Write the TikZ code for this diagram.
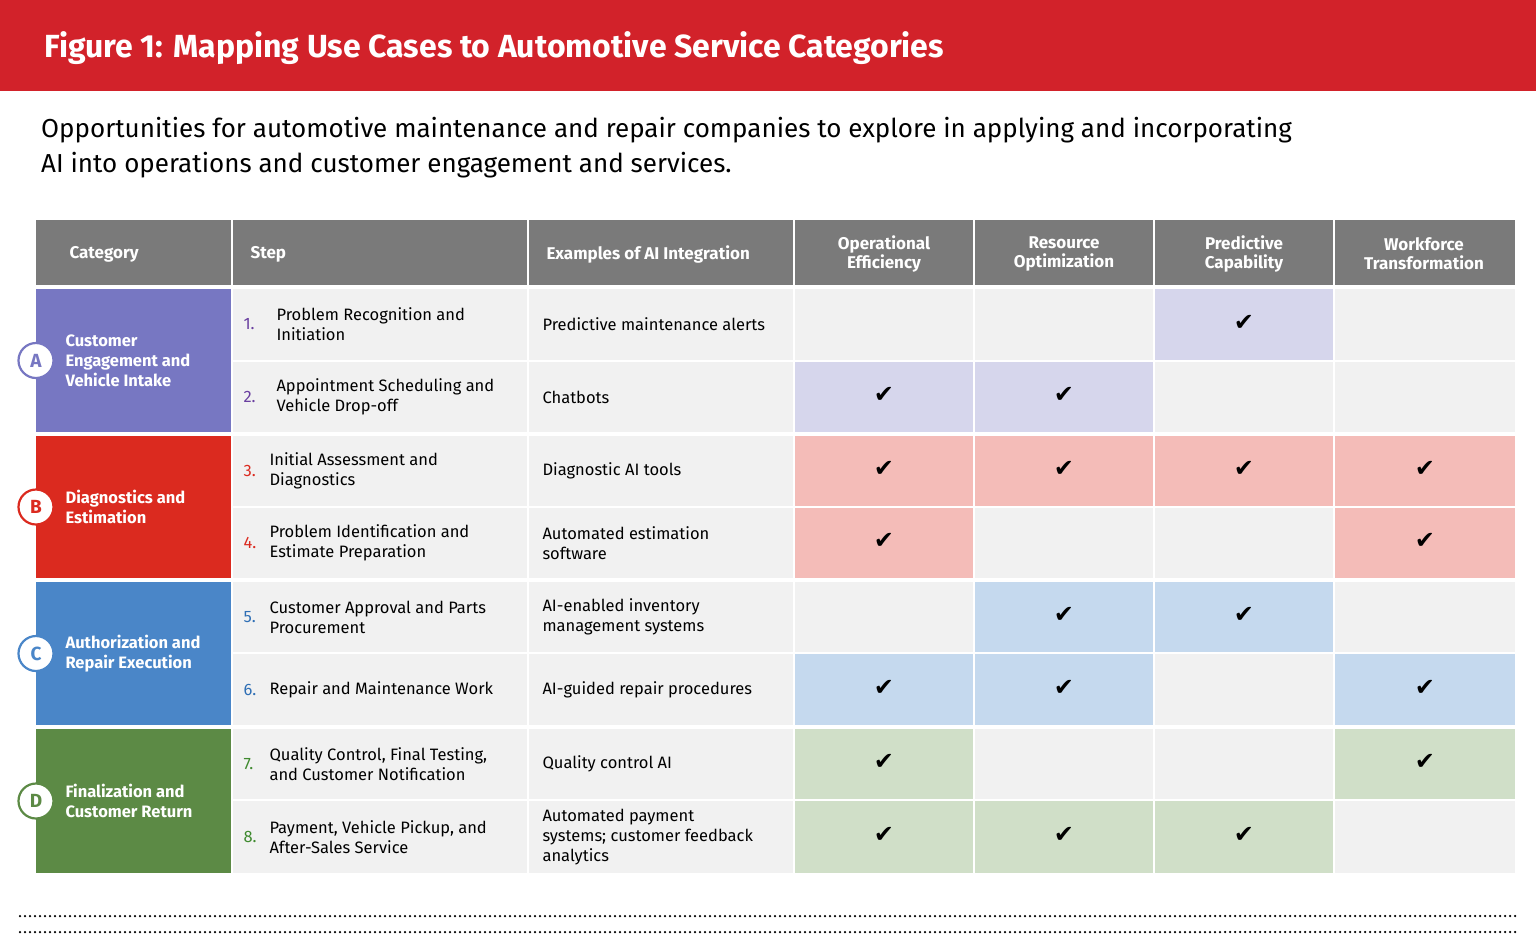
\documentclass[tikz,border=0pt]{standalone}
\usepackage{fontspec}
\setmainfont{Fira Sans}
\newfontfamily\symf{DejaVu Sans}
\begin{document}
\begin{tikzpicture}[x=1pt,y=-1pt,
  hdr/.style={fill=hdrgray,draw=none},
  cell/.style={fill=cellgray,draw=none},
  hdrtxt/.style={text=white,font=\fontsize{17}{19}\selectfont\bfseries,align=center},
  bodytxt/.style={font=\fontsize{16.5}{20}\selectfont,align=left,anchor=west},
  cattxt/.style={text=white,font=\fontsize{16.5}{20}\selectfont\bfseries,align=left,anchor=west},
  chk/.style={font=\symf\fontsize{24}{24}\selectfont},
  badge/.style={circle,fill=white,draw=#1,line width=2.2pt,minimum size=35pt,inner sep=0pt,text=#1,font=\fontsize{19}{19}\selectfont\bfseries}]
\definecolor{titlered}{HTML}{D2222A}
\definecolor{hdrgray}{HTML}{7A7A7A}
\definecolor{cellgray}{HTML}{F1F1F1}
\definecolor{cA}{HTML}{7777C2}\definecolor{lA}{HTML}{D6D6EC}\definecolor{nA}{HTML}{6A3FA0}
\definecolor{cB}{HTML}{DB2A1F}\definecolor{lB}{HTML}{F4BCB8}\definecolor{nB}{HTML}{DB2A1F}
\definecolor{cC}{HTML}{4A86C8}\definecolor{lC}{HTML}{C5D9EE}\definecolor{nC}{HTML}{2F6FB5}
\definecolor{cD}{HTML}{5C8A45}\definecolor{lD}{HTML}{D0DFC8}\definecolor{nD}{HTML}{3F8A2F}
\useasboundingbox (0,0) rectangle (1536,935);
\fill[titlered] (0,0) rectangle (1536,91);
\node[anchor=west,text=white,font=\fontsize{32}{34}\selectfont\bfseries] (title) at (41,48) {Figure 1: Mapping Use Cases to Automotive Service Categories};
\node[anchor=north west,align=left,font=\fontsize{26}{35}\selectfont,inner sep=0pt] (sub) at (41,117) {Opportunities for automotive maintenance and repair companies to explore in applying and incorporating\\AI into operations and customer engagement and services.};
% header
\foreach \a/\b in {36/231,233/527,529/793,795/973,975/1153,1155/1333,1335/1515}{\fill[hdrgray] (\a,220) rectangle (\b,285);}
\node[hdrtxt,anchor=west] (h1) at (66,254) {Category};
\node[hdrtxt,anchor=west] (h2) at (247,254) {Step};
\node[hdrtxt,anchor=west] (h3) at (543,254) {Examples of AI Integration};
\node[hdrtxt] (h4) at (884,254) {Operational\\Efficiency};
\node[hdrtxt] (h5) at (1064,254) {Resource\\Optimization};
\node[hdrtxt] (h6) at (1244,254) {Predictive\\Capability};
\node[hdrtxt] (h7) at (1424,254) {Workforce\\Transformation};
% rows: top/bottom/group/checks(O,R,P,W)
\foreach \t/\bo/\g/\o/\r/\p/\w/\n/\tx/\num/\st/\ex in {
 289/360/A/0/0/1/0/1/277/1./{Problem Recognition and\\Initiation}/{Predictive maintenance alerts},
 362/432/A/1/1/0/0/2/277/2./{Appointment Scheduling and\\Vehicle Drop-off}/{Chatbots},
 436/506/B/1/1/1/1/3/270/3./{Initial Assessment and\\Diagnostics}/{Diagnostic AI tools},
 508/578/B/1/0/0/1/4/270/4./{Problem Identification and\\Estimate Preparation}/{Automated estimation\\software},
 582/652/C/0/1/1/0/5/270/5./{Customer Approval and Parts\\Procurement}/{AI-enabled inventory\\management systems},
 654/725/C/1/1/0/1/6/270/6./{Repair and Maintenance Work}/{AI-guided repair procedures},
 729/799/D/1/0/0/1/7/270/7./{Quality Control, Final Testing,\\and Customer Notification}/{Quality control AI},
 801/873/D/1/1/1/0/8/270/8./{Payment, Vehicle Pickup, and\\After-Sales Service}/{Automated payment\\systems; customer feedback\\analytics}}{
  \fill[cellgray] (233,\t) rectangle (527,\bo);
  \fill[cellgray] (529,\t) rectangle (793,\bo);
  \pgfmathsetmacro{\ym}{(\t+\bo)/2}
  \node[bodytxt,text=n\g] (num\n) at (240,\ym) {\num};
  \node[bodytxt] (st\n) at (\tx-4,\ym) {\st};
  \node[bodytxt] (ex\n) at (539,\ym) {\ex};
  \foreach \v/\a/\b in {\o/795/973,\r/975/1153,\p/1155/1333,\w/1335/1515}{
    \ifnum\v=1
      \fill[l\g] (\a,\t) rectangle (\b,\bo);
      \node[chk] at ({(\a+\b)/2},\ym-2) {✔};
    \else
      \fill[cellgray] (\a,\t) rectangle (\b,\bo);
    \fi}
}
% categories
\foreach \g/\t/\bo/\txt in {A/289/432/{Customer\\Engagement and\\Vehicle Intake},B/436/578/{Diagnostics and\\Estimation},C/582/725/{Authorization and\\Repair Execution},D/729/873/{Finalization and\\Customer Return}}{
  \fill[c\g] (36,\t) rectangle (231,\bo);
  \pgfmathsetmacro{\ym}{(\t+\bo)/2}
  \node[cattxt] (cat\g) at (62,\ym) {\txt};
  \node[badge=c\g] (badge\g) at (36,\ym) {\g};
}
\draw[line width=2.5pt,dash pattern=on 0pt off 5pt,line cap=round] (20,916) -- (1518,916);
\draw[line width=2.5pt,dash pattern=on 0pt off 5pt,line cap=round] (20,932) -- (1518,932);
\end{tikzpicture}
\end{document}
